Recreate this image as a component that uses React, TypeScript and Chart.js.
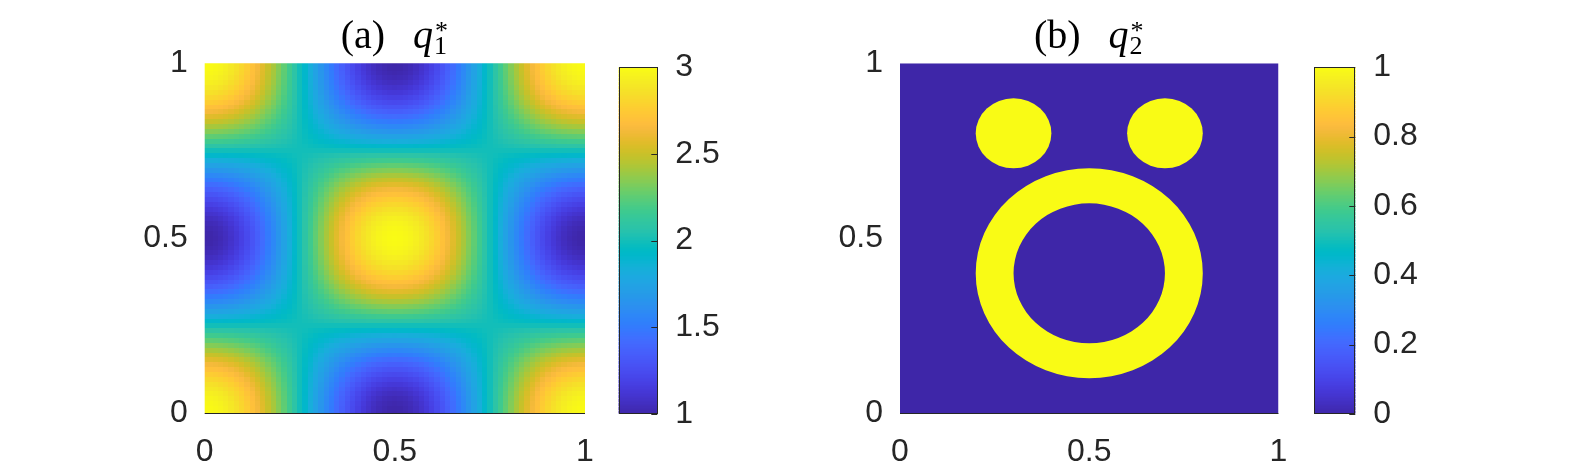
import React, { useEffect, useRef } from "react";
import { Chart, registerables } from "chart.js";

Chart.register(...registerables);

// ---------- DATA ----------
// Panel (a): q1* = mean + amp * profileX(x) * profileY(y), profiles read along the axes (73 samples, 0..1)
const q1Mean = 2;
const q1Amp = 1;
const q1ProfileX = [
  1, 0.996, 0.985, 0.966, 0.940, 0.906, 0.866, 0.819, 0.766, 0.707, 0.643, 0.574, 0.5, 0.423, 0.342, 0.259, 0.174, 0.087, 0,
  -0.087, -0.174, -0.259, -0.342, -0.423, -0.5, -0.574, -0.643, -0.707, -0.766, -0.819, -0.866, -0.906, -0.940, -0.966, -0.985, -0.996, -1,
  -0.996, -0.985, -0.966, -0.940, -0.906, -0.866, -0.819, -0.766, -0.707, -0.643, -0.574, -0.5, -0.423, -0.342, -0.259, -0.174, -0.087, 0,
  0.087, 0.174, 0.259, 0.342, 0.423, 0.5, 0.574, 0.643, 0.707, 0.766, 0.819, 0.866, 0.906, 0.940, 0.966, 0.985, 0.996, 1,
];
const q1ProfileY = q1ProfileX;
const q1Range = [1, 3];
const q1Ticks = [1, 1.5, 2, 2.5, 3];

// Panel (b): q2* = 1 inside the shapes, 0 elsewhere
const q2Background = 0;
const q2Inside = 1;
const q2DiscCx = [0.3, 0.7];
const q2DiscCy = [0.8, 0.8];
const q2DiscR = [0.1, 0.1];
const q2RingCx = [0.5];
const q2RingCy = [0.4];
const q2RingOuter = [0.3];
const q2RingInner = [0.2];
const q2Range = [0, 1];
const q2Ticks = [0, 0.2, 0.4, 0.6, 0.8, 1];

const axisTicks = [0, 0.5, 1];

// parula colormap (64 entries)
const parula = [
  [0.2422, 0.1504, 0.6603], [0.2504, 0.165, 0.7076], [0.2578, 0.1818, 0.7511], [0.2647, 0.1978, 0.7952],
  [0.2706, 0.2147, 0.8364], [0.2751, 0.2342, 0.871], [0.2783, 0.2559, 0.8991], [0.2803, 0.2782, 0.9221],
  [0.2813, 0.3006, 0.9414], [0.281, 0.3228, 0.9579], [0.2795, 0.3447, 0.9717], [0.276, 0.3667, 0.9829],
  [0.2699, 0.3892, 0.9906], [0.2602, 0.4123, 0.9952], [0.244, 0.4358, 0.9988], [0.2206, 0.4603, 0.9973],
  [0.1963, 0.4847, 0.9892], [0.1834, 0.5074, 0.9798], [0.1786, 0.5289, 0.9682], [0.1764, 0.5499, 0.952],
  [0.1687, 0.5703, 0.9359], [0.154, 0.5902, 0.9218], [0.146, 0.6091, 0.9079], [0.138, 0.6276, 0.8973],
  [0.1248, 0.6459, 0.8883], [0.1113, 0.6635, 0.8763], [0.0952, 0.6798, 0.8598], [0.0689, 0.6948, 0.8394],
  [0.0297, 0.7082, 0.8163], [0.0036, 0.7203, 0.7917], [0.0067, 0.7312, 0.766], [0.0433, 0.7411, 0.7394],
  [0.0964, 0.75, 0.712], [0.1408, 0.7584, 0.6842], [0.1717, 0.767, 0.6554], [0.1938, 0.7758, 0.6251],
  [0.2161, 0.7843, 0.5923], [0.247, 0.7918, 0.5567], [0.2906, 0.7973, 0.5188], [0.3406, 0.8008, 0.4789],
  [0.3909, 0.8029, 0.4354], [0.4456, 0.8024, 0.3909], [0.5044, 0.7993, 0.348], [0.5616, 0.7942, 0.3045],
  [0.6174, 0.7876, 0.2612], [0.672, 0.7793, 0.2227], [0.7242, 0.7698, 0.191], [0.7738, 0.7598, 0.1646],
  [0.8203, 0.7498, 0.1535], [0.8634, 0.7406, 0.1596], [0.9035, 0.733, 0.1774], [0.9393, 0.7288, 0.21],
  [0.9728, 0.7298, 0.2394], [0.9956, 0.7434, 0.2371], [0.997, 0.7659, 0.2199], [0.9952, 0.7893, 0.2028],
  [0.9892, 0.8136, 0.1885], [0.9786, 0.8386, 0.1766], [0.9676, 0.8639, 0.1643], [0.961, 0.889, 0.1537],
  [0.9597, 0.9135, 0.1423], [0.9628, 0.9373, 0.1265], [0.9691, 0.9606, 0.1064], [0.9769, 0.9839, 0.0805],
];

// ---------- HELPERS ----------
const TEXT = "#262626";
const TICK_FONT = { family: "'Liberation Sans', Arial, sans-serif", size: 32 };
const fmt = (v: any) => String(Math.round(Number(v) * 100) / 100);

function colorAt(t: number): string {
  const c = Math.max(0, Math.min(1, t)) * (parula.length - 1);
  const i = Math.min(parula.length - 2, Math.floor(c));
  const f = c - i;
  const a = parula[i], b = parula[i + 1];
  const r = Math.round(255 * (a[0] + (b[0] - a[0]) * f));
  const g = Math.round(255 * (a[1] + (b[1] - a[1]) * f));
  const bl = Math.round(255 * (a[2] + (b[2] - a[2]) * f));
  return `rgb(${r},${g},${bl})`;
}

function drawTitle(chart: any, label: string, sub: string) {
  const ctx = chart.ctx as CanvasRenderingContext2D;
  const { left, right } = chart.chartArea;
  const cx = (left + right) / 2;
  const fMain = "40px 'Liberation Serif', serif";
  const fItal = "italic 40px 'Liberation Serif', serif";
  const fSmall = "26px 'Liberation Serif', serif";
  ctx.save();
  ctx.fillStyle = "#000";
  ctx.textAlign = "left";
  ctx.textBaseline = "alphabetic";
  ctx.font = fMain;
  const wA = ctx.measureText(label).width;
  ctx.font = fItal;
  const wq = ctx.measureText("q").width;
  ctx.font = fSmall;
  const wS = Math.max(ctx.measureText(sub).width, ctx.measureText("*").width);
  const gap = 28;
  const total = wA + gap + wq + 1 + wS;
  let x = cx - total / 2 - 1;
  ctx.font = fMain;
  ctx.fillText(label, x, 48);
  x += wA + gap;
  ctx.font = fItal;
  ctx.fillText("q", x, 48);
  x += wq + 1;
  ctx.font = fSmall;
  ctx.fillText(sub, x, 54);
  ctx.fillText("*", x + 1, 39);
  ctx.restore();
}

function bottomLine(chart: any) {
  const ctx = chart.ctx as CanvasRenderingContext2D;
  const { left, right, bottom } = chart.chartArea;
  ctx.save();
  ctx.strokeStyle = TEXT;
  ctx.lineWidth = 1;
  ctx.beginPath();
  ctx.moveTo(left, Math.round(bottom) + 0.5);
  ctx.lineTo(right, Math.round(bottom) + 0.5);
  ctx.stroke();
  ctx.restore();
}

function axisScales(yWidth: number, xHeight: number) {
  return {
    x: {
      type: "linear",
      min: 0,
      max: 1,
      position: "bottom",
      afterBuildTicks: (s: any) => { s.ticks = axisTicks.map((v) => ({ value: v })); },
      ticks: { font: TICK_FONT, color: TEXT, padding: 12, maxRotation: 0, autoSkip: false, callback: fmt },
      grid: { display: false },
      border: { display: false },
      afterFit: (s: any) => { s.height = xHeight; },
    },
    y: {
      type: "linear",
      min: 0,
      max: 1,
      position: "left",
      afterBuildTicks: (s: any) => { s.ticks = axisTicks.map((v) => ({ value: v })); },
      ticks: { font: TICK_FONT, color: TEXT, padding: 9, autoSkip: false, callback: fmt },
      grid: { display: false },
      border: { display: false },
      afterFit: (s: any) => { s.width = yWidth; },
    },
  };
}

// ---------- CONFIGS ----------
const H = 466;

function heatmapAConfig(width: number, plotLeft: number, plotRight: number) {
  const plugin = {
    id: "q1field",
    beforeDatasetsDraw(chart: any) {
      const ctx = chart.ctx as CanvasRenderingContext2D;
      const xs = chart.scales.x, ys = chart.scales.y;
      const { left, right, top, bottom } = chart.chartArea;
      const nx = q1ProfileX.length, ny = q1ProfileY.length;
      const hx = 0.5 / (nx - 1), hy = 0.5 / (ny - 1);
      ctx.save();
      ctx.beginPath();
      ctx.rect(left, top, right - left, bottom - top);
      ctx.clip();
      for (let j = 0; j < ny; j++) {
        const yv = j / (ny - 1);
        const y0 = Math.round(ys.getPixelForValue(yv - hy));
        const y1 = Math.round(ys.getPixelForValue(yv + hy));
        for (let i = 0; i < nx; i++) {
          const xv = i / (nx - 1);
          const x0 = Math.round(xs.getPixelForValue(xv - hx));
          const x1 = Math.round(xs.getPixelForValue(xv + hx));
          const v = q1Mean + q1Amp * q1ProfileX[i] * q1ProfileY[j];
          ctx.fillStyle = colorAt((v - q1Range[0]) / (q1Range[1] - q1Range[0]));
          ctx.fillRect(x0, y1, x1 - x0, y0 - y1);
        }
      }
      ctx.restore();
    },
    afterDraw(chart: any) {
      bottomLine(chart);
      drawTitle(chart, "(a)", "1");
    },
  };
  return {
    type: "scatter",
    data: { datasets: [{ data: [] }] },
    options: {
      responsive: false,
      animation: false,
      devicePixelRatio: 1,
      layout: { padding: { left: 0, top: 63.3, right: width - plotRight, bottom: 0 } },
      plugins: { legend: { display: false }, tooltip: { enabled: false } },
      scales: axisScales(plotLeft, H - 413.3),
    },
    plugins: [plugin],
  };
}

function heatmapBConfig(width: number, plotLeft: number, plotRight: number) {
  const plugin = {
    id: "q2field",
    beforeDatasetsDraw(chart: any) {
      const ctx = chart.ctx as CanvasRenderingContext2D;
      const xs = chart.scales.x, ys = chart.scales.y;
      const { left, right, top, bottom } = chart.chartArea;
      const tB = (q2Background - q2Range[0]) / (q2Range[1] - q2Range[0]);
      const tI = (q2Inside - q2Range[0]) / (q2Range[1] - q2Range[0]);
      ctx.save();
      ctx.beginPath();
      ctx.rect(left, top, right - left, bottom - top);
      ctx.clip();
      ctx.fillStyle = colorAt(tB);
      ctx.fillRect(left, top, right - left, bottom - top);
      const ell = (cx: number, cy: number, r: number) => {
        const px = xs.getPixelForValue(cx), py = ys.getPixelForValue(cy);
        const rx = Math.abs(xs.getPixelForValue(cx + r) - px);
        const ry = Math.abs(ys.getPixelForValue(cy + r) - py);
        ctx.moveTo(px + rx, py);
        ctx.ellipse(px, py, rx, ry, 0, 0, Math.PI * 2);
      };
      ctx.fillStyle = colorAt(tI);
      for (let k = 0; k < q2DiscCx.length; k++) {
        ctx.beginPath();
        ell(q2DiscCx[k], q2DiscCy[k], q2DiscR[k]);
        ctx.fill();
      }
      for (let k = 0; k < q2RingCx.length; k++) {
        ctx.beginPath();
        ell(q2RingCx[k], q2RingCy[k], q2RingOuter[k]);
        ell(q2RingCx[k], q2RingCy[k], q2RingInner[k]);
        ctx.fill("evenodd");
      }
      ctx.restore();
    },
    afterDraw(chart: any) {
      bottomLine(chart);
      drawTitle(chart, "(b)", "2");
    },
  };
  return {
    type: "scatter",
    data: { datasets: [{ data: [] }] },
    options: {
      responsive: false,
      animation: false,
      devicePixelRatio: 1,
      layout: { padding: { left: 0, top: 63.3, right: width - plotRight, bottom: 0 } },
      plugins: { legend: { display: false }, tooltip: { enabled: false } },
      scales: axisScales(plotLeft, H - 413.3),
    },
    plugins: [plugin],
  };
}

function colorbarConfig(width: number, barLeft: number, barRight: number, range: number[], ticks: number[]) {
  const plugin = {
    id: "colorbar",
    beforeDatasetsDraw(chart: any) {
      const ctx = chart.ctx as CanvasRenderingContext2D;
      const ys = chart.scales.y;
      const { left, right, top, bottom } = chart.chartArea;
      const n = 256;
      ctx.save();
      for (let k = 0; k < n; k++) {
        const v0 = range[0] + ((range[1] - range[0]) * k) / n;
        const v1 = range[0] + ((range[1] - range[0]) * (k + 1)) / n;
        const y0 = ys.getPixelForValue(v0);
        const y1 = ys.getPixelForValue(v1);
        ctx.fillStyle = colorAt((k + 0.5) / n);
        ctx.fillRect(left, Math.floor(y1), right - left, Math.ceil(y0) - Math.floor(y1));
      }
      ctx.strokeStyle = TEXT;
      ctx.lineWidth = 1;
      ctx.strokeRect(Math.round(left) + 0.5, Math.round(top) + 0.5, Math.round(right - left) - 1, Math.round(bottom - top) - 1);
      ctx.beginPath();
      for (const t of ticks) {
        const y = Math.round(ys.getPixelForValue(t)) + 0.5;
        ctx.moveTo(right, y);
        ctx.lineTo(right - 6, y);
      }
      ctx.stroke();
      ctx.restore();
    },
  };
  return {
    type: "scatter",
    data: { datasets: [{ data: [] }] },
    options: {
      responsive: false,
      animation: false,
      devicePixelRatio: 1,
      layout: { padding: { left: barLeft, top: 67.3, right: 0, bottom: H - 414 } },
      plugins: { legend: { display: false }, tooltip: { enabled: false } },
      scales: {
        x: { display: false, min: 0, max: 1 },
        y: {
          type: "linear",
          position: "right",
          min: range[0],
          max: range[1],
          afterBuildTicks: (s: any) => { s.ticks = ticks.map((v) => ({ value: v })); },
          ticks: { font: TICK_FONT, color: TEXT, padding: 10, autoSkip: false, callback: fmt },
          grid: { display: false },
          border: { display: false },
          afterFit: (s: any) => { s.width = width - barRight; },
        },
      },
    },
    plugins: [plugin],
  };
}

// ---------- COMPONENTS ----------
function ChartBox({ left, width, makeConfig }: { left: number; width: number; makeConfig: () => any }) {
  const ref = useRef<HTMLCanvasElement>(null);
  useEffect(() => {
    const chart = new Chart(ref.current as HTMLCanvasElement, makeConfig());
    return () => chart.destroy();
  }, []);
  return (
    <canvas
      ref={ref}
      width={width}
      height={H}
      style={{ position: "absolute", left, top: 0, width, height: H }}
    />
  );
}

export default function App() {
  return (
    <div style={{ position: "fixed", left: 0, top: 0, width: 1578, height: H, background: "#fff", overflow: "hidden" }}>
      <ChartBox left={0} width={620} makeConfig={() => heatmapAConfig(620, 204.7, 585)} />
      <ChartBox left={600} width={140} makeConfig={() => colorbarConfig(140, 18.7, 57.3, q1Range, q1Ticks)} />
      <ChartBox left={640} width={672} makeConfig={() => heatmapBConfig(672, 260, 638.5)} />
      <ChartBox left={1290} width={150} makeConfig={() => colorbarConfig(150, 24, 65.3, q2Range, q2Ticks)} />
    </div>
  );
}
